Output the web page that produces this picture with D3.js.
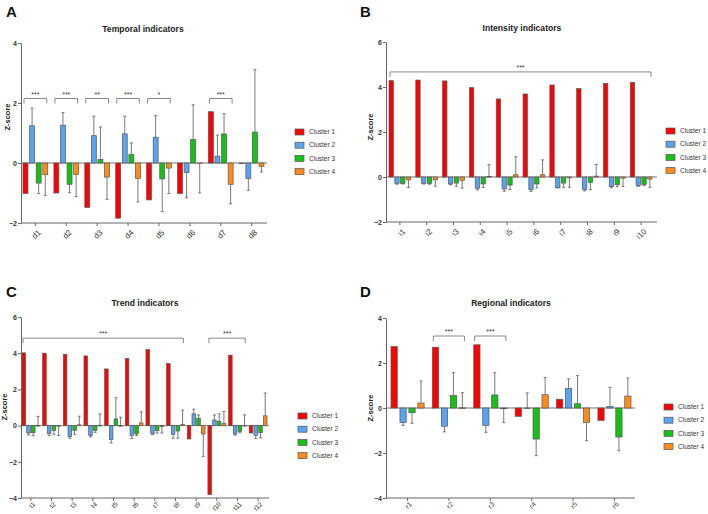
<!DOCTYPE html>
<html><head><meta charset="utf-8">
<script src="https://cdn.jsdelivr.net/npm/d3@7"></script>
<style>body{margin:0;background:#fff} svg{display:block;font-family:"Liberation Sans",Arial,sans-serif}</style>
</head><body><svg id="c" width="708" height="514"></svg>
<script>
// ---------- data ----------
const clusters = ["Cluster 1", "Cluster 2", "Cluster 3", "Cluster 4"];
const clusterColors = ["#ff0000", "#5aa3f0", "#16c116", "#ff8c1a"];
const yTicksA = [-2, 0, 2, 4];
const yTicksB = [-2, 0, 2, 4, 6];
const yTicksC = [-4, -2, 0, 2, 4, 6];
const yTicksD = [-4, -2, 0, 2, 4];

// Temporal indicators (A)
const temporalCats = ["d1", "d2", "d3", "d4", "d5", "d6", "d7", "d8"];
const temporalMean = [
  [-1.02, -1.00, -1.48, -1.84, -1.23, -1.02, 1.71, -0.01],
  [1.24, 1.26, 0.91, 0.97, 0.86, -0.32, 0.23, -0.52],
  [-0.67, -0.71, 0.12, 0.28, -0.53, 0.78, 0.97, 1.03],
  [-0.39, -0.38, -0.47, -0.51, -0.17, -0.02, -0.71, -0.11]
];
const temporalErr = [
  [0, 0, 0, 0, 0, 0, 0, 0],
  [0.59, 0.42, 0.65, 0.59, 0.72, 0.84, 0.70, 0.39],
  [0.35, 0.28, 1.08, 0.39, 1.09, 1.16, 0.67, 2.08],
  [0.69, 0.74, 0.74, 0.79, 0.85, 0.98, 0.65, 0.19]
];
const temporalSig = [
  {from: "d1", to: "d1", label: "***"},
  {from: "d2", to: "d2", label: "***"},
  {from: "d3", to: "d3", label: "**"},
  {from: "d4", to: "d4", label: "***"},
  {from: "d5", to: "d5", label: "*"},
  {from: "d7", to: "d7", label: "***"}
];
const temporalSigLevel = 2.15;

// Intensity indicators (B)
const intensityCats = ["i1", "i2", "i3", "i4", "i5", "i6", "i7", "i8", "i9", "i10"];
const intensityMean = [
  [4.28, 4.31, 4.27, 3.97, 3.47, 3.69, 4.09, 3.93, 4.16, 4.21],
  [-0.28, -0.28, -0.31, -0.50, -0.53, -0.56, -0.46, -0.56, -0.43, -0.37],
  [-0.28, -0.28, -0.27, -0.31, -0.36, -0.31, -0.27, -0.25, -0.34, -0.33],
  [-0.13, -0.13, -0.15, 0.03, 0.10, 0.10, -0.04, 0.04, -0.05, -0.09]
];
const intensityErr = [
  [0, 0, 0, 0, 0, 0, 0, 0, 0, 0],
  [0.04, 0.03, 0.04, 0.08, 0.10, 0.08, 0.03, 0.06, 0.05, 0.05],
  [0.03, 0.04, 0.14, 0.15, 0.20, 0.18, 0.19, 0.31, 0.08, 0.06],
  [0.33, 0.28, 0.34, 0.52, 0.80, 0.66, 0.42, 0.52, 0.37, 0.37]
];
const intensitySig = [{from: "i1", to: "i10", label: "***"}];
const intensitySigLevel = 4.67;

// Trend indicators (C)
const trendCats = ["t1", "t2", "t3", "t4", "t5", "t6", "t7", "t8", "t9", "t10", "t11", "t12"];
const trendMean = [
  [4.02, 4.00, 3.94, 3.85, 3.13, 3.70, 4.20, 3.43, -0.74, -3.81, 3.89, -0.41],
  [-0.41, -0.44, -0.61, -0.54, -0.76, -0.54, -0.43, -0.48, 0.65, 0.31, -0.46, -0.54],
  [-0.39, -0.26, -0.26, -0.26, 0.37, -0.46, -0.28, -0.30, 0.41, 0.24, -0.33, -0.39],
  [0.01, -0.02, 0.04, 0.02, 0.00, 0.15, -0.05, 0.06, -0.46, 0.11, 0.01, 0.54]
];
const trendErr = [
  [0, 0, 0, 0, 0, 0, 0, 0, 0, 0, 0, 0],
  [0.11, 0.11, 0.09, 0.09, 0.20, 0.17, 0.06, 0.22, 0.26, 0.28, 0.07, 0.17],
  [0.17, 0.22, 0.22, 0.11, 1.17, 0.09, 0.13, 0.40, 0.18, 0.41, 0.07, 0.28],
  [0.50, 0.53, 0.48, 0.63, 0.46, 0.61, 0.36, 0.79, 1.24, 0.67, 0.58, 1.26]
];
const trendSig = [
  {from: "t1", to: "t8", label: "***"},
  {from: "t10", to: "t11", label: "***"}
];
const trendSigLevel = 4.83;

// Regional indicators (D)
const regionalCats = ["r1", "r2", "r3", "r4", "r5", "r6"];
const regionalMean = [
  [2.73, 2.70, 2.81, -0.37, 0.39, -0.55],
  [-0.65, -0.81, -0.77, 0.00, 0.87, 0.07],
  [-0.21, 0.55, 0.58, -1.38, 0.19, -1.29],
  [0.22, 0.01, -0.03, 0.59, -0.65, 0.53]
];
const regionalErr = [
  [0, 0, 0, 0, 0, 0],
  [0.12, 0.25, 0.31, 0.67, 0.43, 0.85],
  [0.47, 1.02, 0.99, 0.74, 1.25, 0.61],
  [0.98, 0.67, 0.62, 0.76, 0.80, 0.80]
];
const regionalSig = [
  {from: "r2", to: "r2", label: "***"},
  {from: "r3", to: "r3", label: "***"}
];
const regionalSigLevel = 3.2;

// ---------- drawing ----------
const svg = d3.select("#c");

function panel(o) {
  const g = svg.append("g");
  const y = d3.scaleLinear().domain(o.yDomain).range(o.yRange);
  const x = d3.scaleBand().domain(o.cats).range(o.bandRange).paddingInner(o.padIn).paddingOuter(0);
  const xi = d3.scaleBand().domain(d3.range(clusters.length)).range([0, x.bandwidth()]).paddingInner(o.barPad);

  // panel letter + title
  g.append("text").attr("x", o.letter[1]).attr("y", o.letter[2]).text(o.letter[0])
    .attr("font-size", 15).attr("font-weight", "bold").attr("fill", "#111");
  g.append("text").attr("x", o.titleXY[0]).attr("y", o.titleXY[1]).text(o.title)
    .attr("text-anchor", "middle").attr("font-size", 8.6).attr("font-weight", "bold").attr("fill", "#222");

  // zero line
  g.append("line").attr("x1", o.axisX[0]).attr("x2", o.axisX[1]).attr("y1", y(0)).attr("y2", y(0))
    .attr("stroke", "#a0a0a0").attr("stroke-width", 1.4);

  // bars
  clusters.forEach((c, ci) => {
    const gg = g.append("g");
    o.cats.forEach((cat, k) => {
      const v = o.means[ci][k], e = o.errs[ci][k];
      const bx = x(cat) + xi(ci), bw = xi.bandwidth();
      const cx = bx + bw / 2;
      if (e > 0) {
        const dir = v >= 0 ? 1 : -1;
        const yEnd = y(v + dir * e);
        gg.append("line").attr("x1", cx).attr("x2", cx).attr("y1", y(v)).attr("y2", yEnd)
          .attr("stroke", "#6a6a6a").attr("stroke-width", 0.9);
        gg.append("line").attr("x1", cx - 1.5).attr("x2", cx + 1.5).attr("y1", yEnd).attr("y2", yEnd)
          .attr("stroke", "#6a6a6a").attr("stroke-width", 0.9);
      }
      gg.append("rect").attr("x", bx).attr("width", bw)
        .attr("y", Math.min(y(v), y(0))).attr("height", Math.max(0.6, Math.abs(y(v) - y(0))))
        .attr("fill", clusterColors[ci]).attr("stroke", "#555").attr("stroke-width", 0.7);
    });
  });

  // y axis
  const ya = g.append("g").attr("transform", `translate(${o.axisX[0]},0)`)
    .call(d3.axisLeft(y).tickValues(o.yTicks).tickFormat(d3.format("d")).tickSize(3).tickSizeOuter(0));
  ya.select(".domain").attr("stroke", "#666");
  ya.selectAll(".tick line").attr("stroke", "#666");
  ya.selectAll(".tick text").attr("font-size", 7).attr("font-weight", "bold").attr("fill", "#333")
    .attr("font-family", "Liberation Sans, Arial, sans-serif").attr("x", -4);

  // x axis
  const yBase = y(o.yDomain[0]);
  const xa = g.append("g").attr("transform", `translate(0,${yBase})`)
    .call(d3.axisBottom(x).tickSize(3).tickSizeOuter(0));
  xa.select(".domain").remove();
  xa.append("line").attr("x1", o.axisX[0]).attr("x2", o.axisX[1]).attr("stroke", "#666");
  xa.selectAll(".tick line").attr("stroke", "#666");
  xa.selectAll(".tick text").attr("font-size", o.xFont).attr("fill", "#333")
    .attr("font-family", "Liberation Sans, Arial, sans-serif")
    .attr("x", 0).attr("y", 0).attr("dy", "0.35em")
    .attr("transform", `translate(${o.xOff[0]},${o.xOff[1]}) rotate(-45)`).style("text-anchor", "end");

  // y label
  g.append("text").attr("transform", `translate(${o.ylabXY[0]},${o.ylabXY[1]}) rotate(-90)`)
    .text("Z-score").attr("text-anchor", "middle").attr("font-size", 7.5).attr("font-weight", "bold").attr("fill", "#222");

  // significance brackets
  const yb = y(o.sigLevel);
  o.sig.forEach(s => {
    const x1 = x(s.from) + 1, x2 = x(s.to) + x.bandwidth() - 1;
    g.append("path").attr("d", `M${x1},${yb + 5}V${yb}H${x2}V${yb + 5}`)
      .attr("fill", "none").attr("stroke", "#7a7a7a").attr("stroke-width", 0.9);
    g.append("text").attr("x", (x1 + x2) / 2).attr("y", yb - 2).text(s.label)
      .attr("text-anchor", "middle").attr("font-size", 7).attr("fill", "#333");
  });

  // legend
  clusters.forEach((c, ci) => {
    const ly = o.legXY[1] + ci * 13.2;
    g.append("rect").attr("x", o.legXY[0]).attr("y", ly - 3).attr("width", 9).attr("height", 6)
      .attr("fill", clusterColors[ci]).attr("stroke", "#555").attr("stroke-width", 0.7);
    g.append("text").attr("x", o.legXY[0] + 14).attr("y", ly).attr("dy", "0.35em").text(c)
      .attr("font-size", 6.5).attr("fill", "#333");
  });
}

panel({cats: temporalCats, means: temporalMean, errs: temporalErr, yDomain: [-2, 4], yRange: [223, 43],
  yTicks: yTicksA, axisX: [21, 267], bandRange: [23, 264], padIn: 0.2, barPad: 0.25,
  xFont: 8, xOff: [4, 8],
  letter: ["A", 6, 17], title: "Temporal indicators", titleXY: [143, 32], ylabXY: [10, 117],
  sig: temporalSig, sigLevel: temporalSigLevel, legXY: [295, 132]});

panel({cats: intensityCats, means: intensityMean, errs: intensityErr, yDomain: [-2, 6], yRange: [222, 42],
  yTicks: yTicksB, axisX: [386, 657], bandRange: [389, 652], padIn: 0.19, barPad: 0.25,
  xFont: 8, xOff: [4, 8],
  letter: ["B", 360, 17], title: "Intensity indicators", titleXY: [522, 31], ylabXY: [373, 127],
  sig: intensitySig, sigLevel: intensitySigLevel, legXY: [666, 131]});

panel({cats: trendCats, means: trendMean, errs: trendErr, yDomain: [-4, 6], yRange: [498, 317],
  yTicks: yTicksC, axisX: [21, 269], bandRange: [22, 267], padIn: 0.14, barPad: 0.25,
  xFont: 6.6, xOff: [3, 5],
  letter: ["C", 6, 297], title: "Trend indicators", titleXY: [145, 306], ylabXY: [7, 407],
  sig: trendSig, sigLevel: trendSigLevel, legXY: [298, 416]});

panel({cats: regionalCats, means: regionalMean, errs: regionalErr, yDomain: [-4, 4], yRange: [498, 318],
  yTicks: yTicksD, axisX: [386, 635], bandRange: [391, 631], padIn: 0.2, barPad: 0.3,
  xFont: 6.8, xOff: [3, 5],
  letter: ["D", 360, 297], title: "Regional indicators", titleXY: [511, 306], ylabXY: [373, 408],
  sig: regionalSig, sigLevel: regionalSigLevel, legXY: [664, 407]});
</script></body></html>
